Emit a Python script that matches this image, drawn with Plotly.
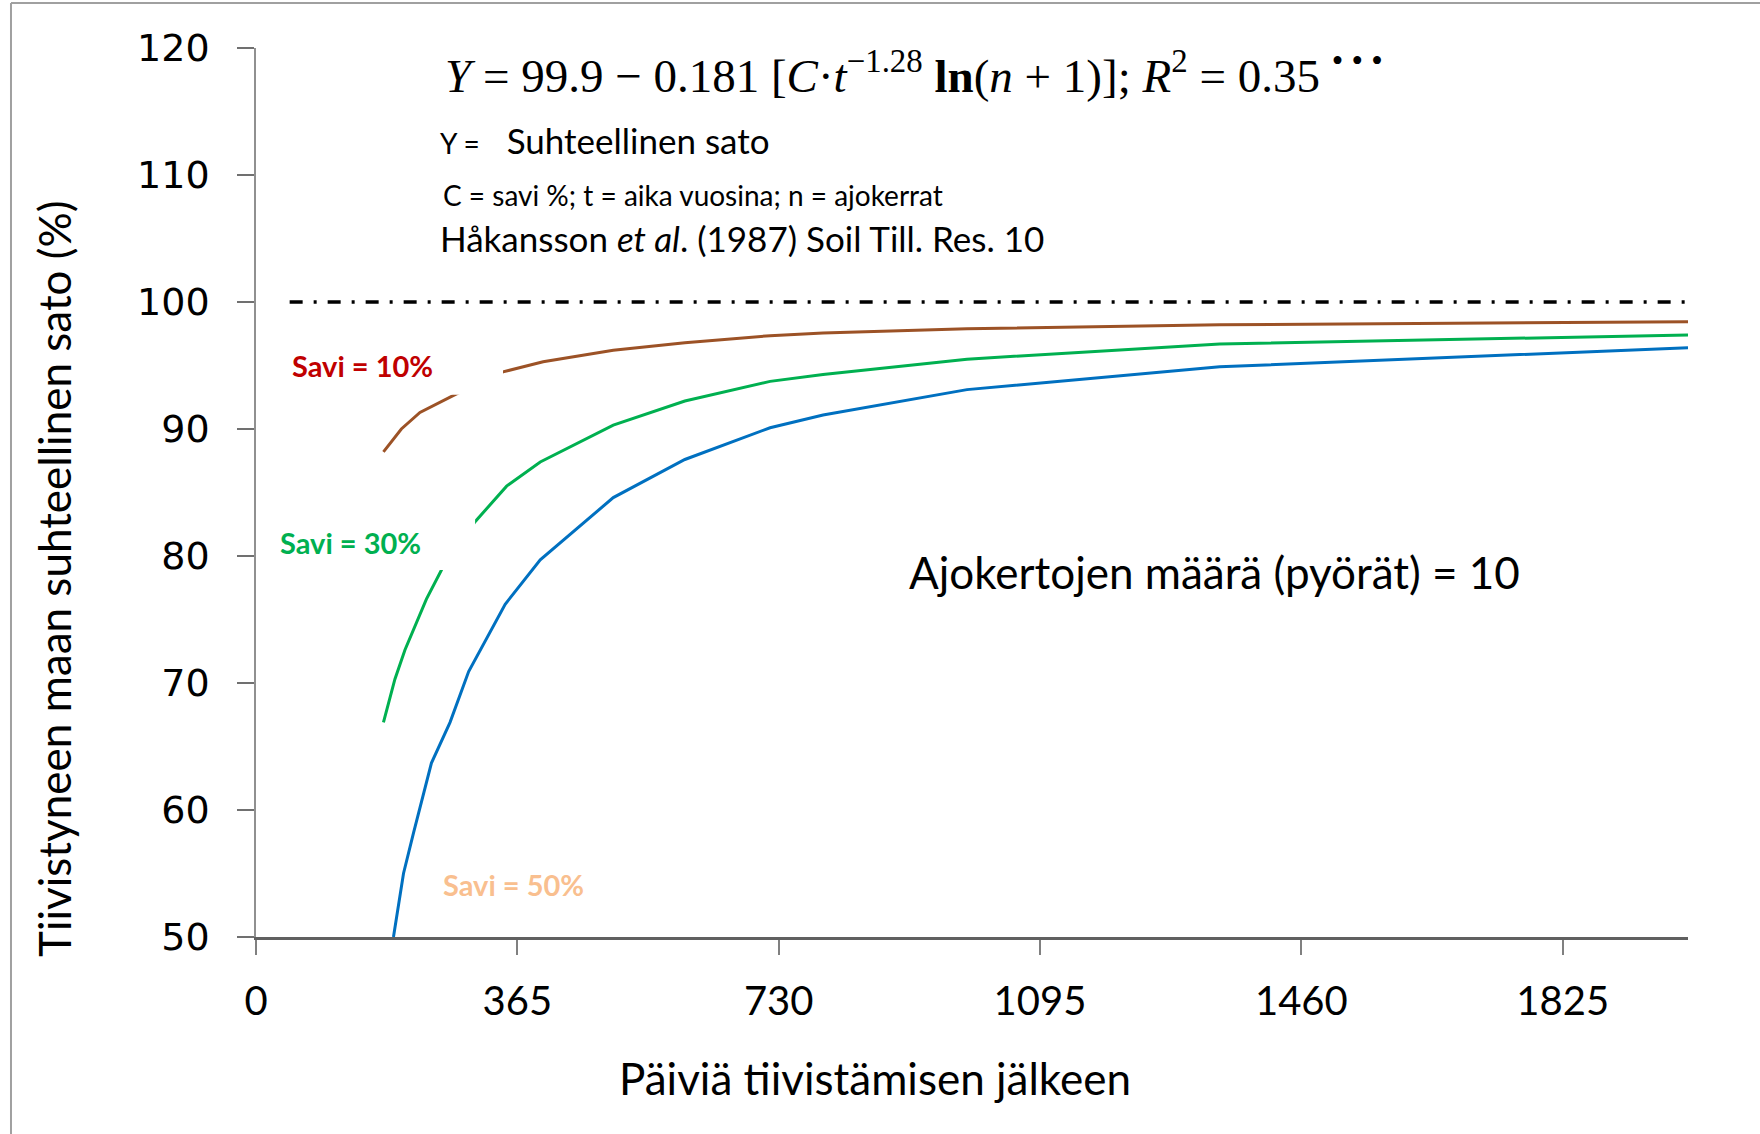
import plotly.graph_objects as go

# ---------------- data ----------------
days_brown = [178, 203, 229, 278, 345, 401, 499, 599, 718, 792, 993, 1346, 2000]
yield_brown = [88.2, 90.0, 91.3, 92.7, 94.5, 95.3, 96.2, 96.8, 97.35, 97.55, 97.9, 98.2, 98.45]

days_green = [178, 194, 208, 238, 259, 306, 350, 397, 499, 599, 718, 792, 993, 1346, 2000]
yield_green = [66.9, 70.3, 72.6, 76.6, 78.9, 82.7, 85.5, 87.4, 90.3, 92.2, 93.75, 94.3, 95.5, 96.7, 97.4]

days_blue = [192, 206, 220, 245, 271, 297, 348, 397, 499, 599, 718, 792, 993, 1346, 2000]
yield_blue = [50.0, 55.0, 58.2, 63.7, 66.9, 70.9, 76.2, 79.7, 84.6, 87.6, 90.1, 91.1, 93.1, 94.9, 96.4]

ref_days = [47, 2000]
ref_yield = [100, 100]

x_ticks = [0, 365, 730, 1095, 1460, 1825]
y_ticks = [50, 60, 70, 80, 90, 100, 110, 120]

# label masks (white text boxes covering parts of the curves)
mask_10 = dict(x0=20, x1=345, y0=92.7, y1=97.4)
mask_30 = dict(x0=15, x1=306, y0=78.9, y1=83.4)

# ---------------- figure ----------------
SANS = "Lato, Carlito, Calibri, sans-serif"

fig = go.Figure()
fig.add_trace(go.Scatter(x=ref_days, y=ref_yield, mode="lines",
                         line=dict(color="black", width=3.5, dash="13px,11px,3px,11px"),
                         hoverinfo="skip"))
fig.add_trace(go.Scatter(x=days_brown, y=yield_brown, mode="lines",
                         line=dict(color="#9C5226", width=3)))
fig.add_trace(go.Scatter(x=days_green, y=yield_green, mode="lines",
                         line=dict(color="#00B050", width=3)))
fig.add_trace(go.Scatter(x=days_blue, y=yield_blue, mode="lines",
                         line=dict(color="#0070C0", width=3)))

shapes = []
for m in (mask_10, mask_30):
    shapes.append(dict(type="rect", xref="x", yref="y", layer="above",
                       fillcolor="white", line=dict(width=0), **m))
# outer frame lines
shapes.append(dict(type="line", xref="paper", yref="paper", x0=-0.1711, x1=-0.1711,
                   y0=-0.24, y1=1.0506, line=dict(color="#A0A0A0", width=2)))
shapes.append(dict(type="line", xref="paper", yref="paper", x0=-0.1711, x1=1.06,
                   y0=1.0506, y1=1.0506, line=dict(color="#A0A0A0", width=2)))

ann = []
def A(text, x, y, size, color="black", family=SANS, xanchor="left", **kw):
    ann.append(dict(text=text, x=x, y=y, xref="paper", yref="paper", showarrow=False,
                    xanchor=xanchor, yanchor="middle",
                    font=dict(size=size, color=color, family=family), **kw))

A("<i>Y</i> = 99.9 − 0.181 [<i>C</i>·<i>t</i><sup>−1.28</sup> <b>ln</b>(<i>n</i> + 1)]; <i>R</i><sup>2</sup> = 0.35 <sup>• • •</sup>",
  0.1306, 0.9719, 47, family="Liberation Serif, DejaVu Serif, serif")
A("<span style='font-size:28px'>Y =</span>&nbsp;&nbsp; Suhteellinen sato", 0.1271, 0.8965, 35)
A("C = savi %; t = aika vuosina; n = ajokerrat", 0.1292, 0.8346, 28)
A("Håkansson <i>et al</i>. (1987) Soil Till. Res. 10", 0.1271, 0.7863, 35)
A("Ajokertojen määrä (pyörät) = 10", 0.4546, 0.4106, 44)
A("<b>Savi = 10%</b>", 0.0237, 0.6423, 29, color="#C00000")
A("<b>Savi = 30%</b>", 0.0154, 0.4443, 29, color="#00B050")
A("<b>Savi = 50%</b>", 0.1292, 0.0596, 29, color="#F9BF8F")
A("Päiviä tiivistämisen jälkeen", 0.4326, -0.1586, 44, xanchor="center")
A("Tiivistyneen maan suhteellinen sato (%)", -0.1411, 0.4027, 44, xanchor="center", textangle=-90)

fig.update_layout(
    width=1760, height=1134,
    margin=dict(l=256, r=72, t=48, b=197),
    paper_bgcolor="white", plot_bgcolor="white",
    showlegend=False,
    shapes=shapes, annotations=ann,
    xaxis=dict(range=[0, 2000], tickvals=x_ticks, ticktext=[str(v) for v in x_ticks],
               showgrid=False, zeroline=False, showline=True, linecolor="#606060", linewidth=2.5,
               ticks="outside", ticklen=15, tickwidth=1.5, tickcolor="#808080",
               ticklabelstandoff=12,
               tickfont=dict(family=SANS, size=40, color="black")),
    yaxis=dict(range=[50, 120], tickvals=y_ticks, ticktext=[str(v) for v in y_ticks],
               showgrid=False, zeroline=False, showline=True, linecolor="#909090", linewidth=1.5,
               ticks="outside", ticklen=17, tickwidth=1.5, tickcolor="#707070",
               ticklabelstandoff=20,
               tickfont=dict(family="DejaVu Sans, Verdana, sans-serif", size=38, color="black")),
)

fig.write_html("out.html")
